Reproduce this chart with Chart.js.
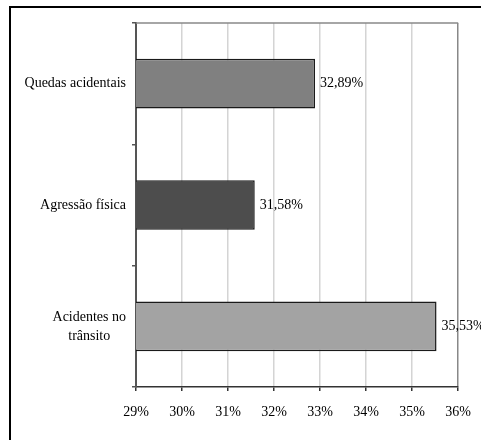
<!DOCTYPE html>
<html>
<head>
<meta charset="utf-8">
<script src="https://cdn.jsdelivr.net/npm/chart.js@4"></script>
<style>
  html, body { margin: 0; padding: 0; background: #ffffff; }
  #chart { display: block; }
</style>
</head>
<body>
<canvas id="chart" width="481" height="440"></canvas>
<script>
// Categories (multi-line labels given as arrays)
const categories = ['Quedas acidentais', 'Agressão física', ['Acidentes no', 'trânsito']];
// Percentage values per category
const values = [32.89, 31.58, 35.53];
// Bar fill colours per category
const barColors = ['#808080', '#4d4d4d', '#a3a3a3'];
// Value axis range and tick step
const axisMin = 29;
const axisMax = 36;
const axisStep = 1;

const FONT = '"Liberation Serif", "Times New Roman", serif';

function formatPct(v) {
  return v.toFixed(2).replace('.', ',') + '%';
}

// Outer frame plus top plot border
const framePlugin = {
  id: 'frame',
  beforeDraw(chart) {
    const ctx = chart.ctx;
    ctx.save();
    ctx.fillStyle = '#ffffff';
    ctx.fillRect(0, 0, chart.width, chart.height);
    ctx.strokeStyle = '#000000';
    ctx.lineWidth = 2;
    ctx.strokeRect(10, 7, chart.width + 50, chart.height + 50);
    ctx.restore();
  },
  beforeDatasetsDraw(chart) {
    const { ctx, chartArea: a } = chart;
    ctx.save();
    ctx.strokeStyle = '#888888';
    ctx.lineWidth = 1.5;
    ctx.beginPath();
    ctx.moveTo(a.left, a.top);
    ctx.lineTo(a.right, a.top);
    ctx.stroke();
    ctx.restore();
  }
};

// Category labels: right-aligned block, lines centred within the block
const categoryLabelPlugin = {
  id: 'categoryLabels',
  afterDraw(chart) {
    const ctx = chart.ctx;
    const yScale = chart.scales.y;
    const rightEdge = chart.chartArea.left - 10;
    const lineH = 19;
    ctx.save();
    ctx.font = '14px ' + FONT;
    ctx.fillStyle = '#000000';
    ctx.textBaseline = 'middle';
    ctx.textAlign = 'center';
    categories.forEach((label, i) => {
      const lines = Array.isArray(label) ? label : [label];
      const blockW = Math.max(...lines.map(l => ctx.measureText(l).width));
      const cx = rightEdge - blockW / 2;
      const cy = yScale.getPixelForValue(i);
      const y0 = cy - (lines.length - 1) * lineH / 2;
      lines.forEach((l, k) => ctx.fillText(l, cx, y0 + k * lineH));
    });
    ctx.restore();
  }
};

// Value labels to the right of each bar
const valueLabelPlugin = {
  id: 'valueLabels',
  afterDatasetsDraw(chart) {
    const ctx = chart.ctx;
    const meta = chart.getDatasetMeta(0);
    ctx.save();
    ctx.font = '14px ' + FONT;
    ctx.fillStyle = '#000000';
    ctx.textAlign = 'left';
    ctx.textBaseline = 'middle';
    meta.data.forEach((bar, i) => {
      ctx.fillText(formatPct(values[i]), bar.x + 5, bar.y);
    });
    ctx.restore();
  }
};

new Chart(document.getElementById('chart'), {
  type: 'bar',
  data: {
    labels: categories,
    datasets: [{
      data: values,
      backgroundColor: barColors,
      borderColor: '#1a1a1a',
      borderWidth: 1.5,
      borderSkipped: false,
      barPercentage: 0.41,
      categoryPercentage: 1
    }]
  },
  options: {
    indexAxis: 'y',
    responsive: false,
    animation: false,
    devicePixelRatio: 1,
    layout: { padding: { top: 23, right: 22, left: 0, bottom: 0 } },
    plugins: {
      legend: { display: false },
      tooltip: { enabled: false }
    },
    scales: {
      x: {
        min: axisMin,
        max: axisMax,
        afterFit(scale) { scale.height = 53; },
        ticks: {
          stepSize: axisStep,
          color: '#000000',
          padding: 10,
          font: { family: FONT, size: 14, lineHeight: 1.63 },
          callback: v => v + '%'
        },
        grid: {
          color: ctx => (ctx.index === (axisMax - axisMin) / axisStep ? '#888888' : '#d4d4d4'),
          lineWidth: 1.5,
          tickColor: '#333333',
          tickLength: 4
        },
        border: { color: '#333333', width: 1.5 }
      },
      y: {
        afterFit(scale) { scale.width = 136; },
        ticks: { display: false },
        grid: {
          drawOnChartArea: false,
          drawTicks: true,
          tickLength: 4,
          tickColor: '#555555',
          lineWidth: 1.5,
          offset: true
        },
        border: { color: '#555555', width: 2 }
      }
    }
  },
  plugins: [framePlugin, categoryLabelPlugin, valueLabelPlugin]
});
</script>
</body>
</html>
